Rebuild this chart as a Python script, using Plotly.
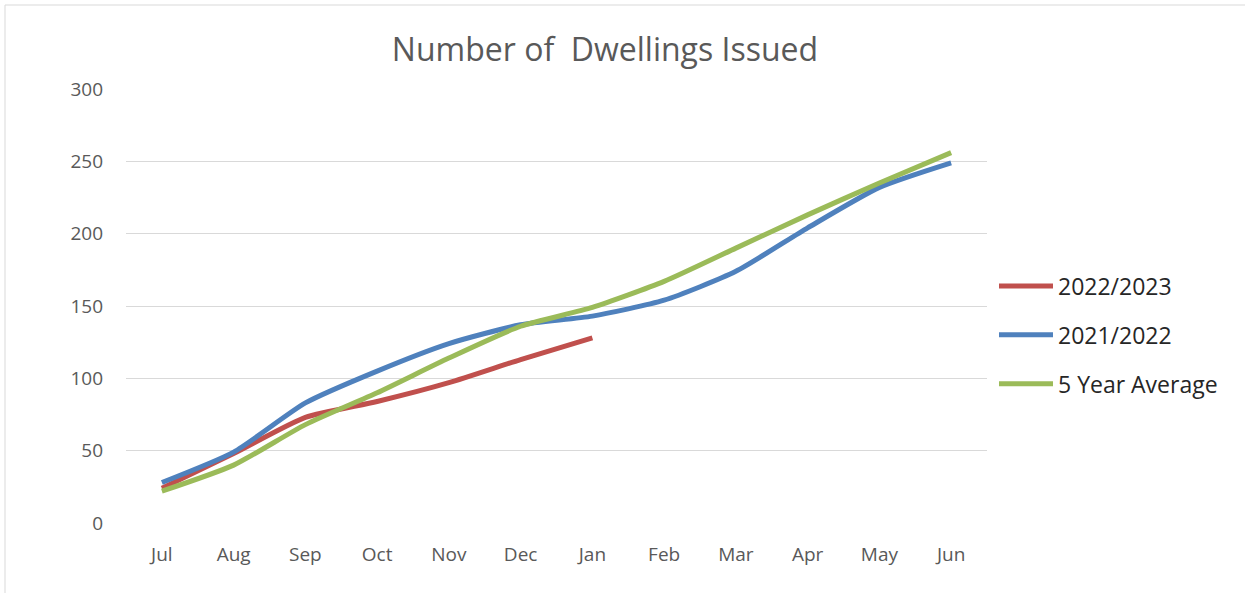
import plotly.graph_objects as go

months = ["Jul", "Aug", "Sep", "Oct", "Nov", "Dec", "Jan", "Feb", "Mar", "Apr", "May", "Jun"]
fy_2022_2023 = [24, 48, 73, 84, 97, 113, 128]
fy_2021_2022 = [28, 49, 83, 105, 124, 137, 143, 154, 174, 204, 232, 249]
five_year_avg = [22, 40, 68, 90, 114, 136, 149, 167, 190, 213, 235, 256]
y_ticks = [0, 50, 100, 150, 200, 250, 300]

series = [
    ("2022/2023", months[:len(fy_2022_2023)], fy_2022_2023, "#C0504D"),
    ("2021/2022", months, fy_2021_2022, "#4F81BD"),
    ("5 Year Average", months, five_year_avg, "#9BBB59"),
]

fig = go.Figure()
for name, xs, ys, color in series:
    fig.add_trace(go.Scatter(
        x=xs, y=ys, name=name, mode="lines", legendgroup=name,
        line=dict(color=color, width=5, shape="spline", smoothing=0.6),
    ))

W, H = 1245, 593
L, R, T, B = 126, 258, 89, 70
pw, ph = W - L - R, H - T - B

fig.update_layout(
    width=W, height=H,
    margin=dict(l=L, r=R, t=T, b=B),
    paper_bgcolor="white", plot_bgcolor="white",
    font=dict(family="Open Sans, Liberation Sans, sans-serif", color="#595959"),
    title=dict(text="Number of  Dwellings Issued", x=(605 - L) / pw, xref="paper",
               xanchor="center", y=1 - 50 / H, yanchor="middle",
               font=dict(size=32, color="#595959", family="Open Sans, sans-serif")),
    showlegend=True,
    legend=dict(x=(994 - L) / pw, y=(523 - 335) / ph, xanchor="left", yanchor="middle",
                font=dict(size=23, color="#262626", family="Open Sans, sans-serif"),
                tracegroupgap=16, itemwidth=54, bgcolor="rgba(0,0,0,0)"),
    xaxis=dict(type="category", categoryorder="array", categoryarray=months,
               range=[-0.5, 11.5], showgrid=False, showline=False, ticks="",
               tickfont=dict(size=19, color="#595959"), ticklabelstandoff=18),
    yaxis=dict(range=[0, 300], tickvals=y_ticks, showgrid=True, gridcolor="#D9D9D9",
               gridwidth=1, zeroline=False, showline=False, ticks="",
               tickfont=dict(size=19, color="#595959"), ticklabelstandoff=22),
    shapes=[dict(type="rect", xref="paper", yref="paper",
                 x0=(5 - L) / pw, x1=(1260 - L) / pw,
                 y0=(523 - 610) / ph, y1=(523 - 5) / ph,
                 line=dict(color="#D9D9D9", width=1), layer="below")],
)

fig.write_html("out.html", config={"displayModeBar": False},
               post_script="document.body.style.margin='0';")
